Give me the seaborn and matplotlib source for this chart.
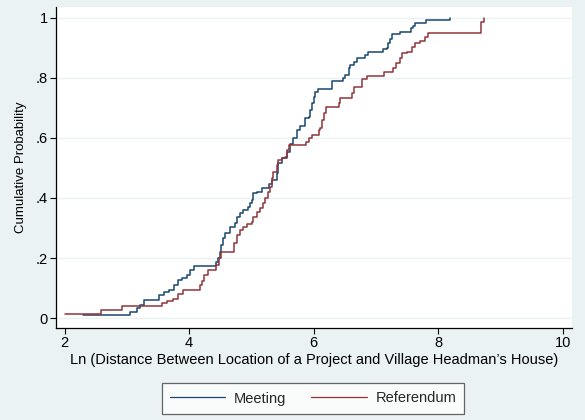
import matplotlib
matplotlib.use("Agg")
import matplotlib.pyplot as plt
import seaborn as sns
import pandas as pd

# Meeting ECDF step points (x = ln distance, y = cumulative probability)
meeting_x = [2.29, 3.05, 3.16, 3.21, 3.27, 3.51, 3.60, 3.67, 3.75, 3.83, 3.88, 3.96,
             4.02, 4.08, 4.44, 4.47, 4.50, 4.52, 4.55, 4.58, 4.66, 4.74, 4.77, 4.82,
             4.87, 4.95, 4.98, 5.01, 5.02, 5.03, 5.09, 5.17, 5.29, 5.33, 5.41, 5.43,
             5.49, 5.57, 5.62, 5.67, 5.73, 5.78, 5.86, 5.92, 5.94, 5.97, 6.00, 6.02,
             6.07, 6.29, 6.47, 6.50, 6.56, 6.58, 6.64, 6.69, 6.83, 6.88, 7.12, 7.18,
             7.20, 7.23, 7.25, 7.39, 7.56, 7.60, 7.63, 7.81, 8.19]
meeting_y = [0.011, 0.021, 0.032, 0.043, 0.060, 0.077, 0.088, 0.094, 0.110, 0.127, 0.135, 0.145,
             0.160, 0.173, 0.188, 0.199, 0.221, 0.243, 0.265, 0.282, 0.304, 0.315, 0.337, 0.349,
             0.360, 0.371, 0.382, 0.393, 0.404, 0.415, 0.420, 0.432, 0.448, 0.460, 0.482, 0.515,
             0.532, 0.554, 0.580, 0.600, 0.626, 0.640, 0.665, 0.670, 0.693, 0.715, 0.737, 0.754,
             0.762, 0.790, 0.798, 0.809, 0.832, 0.842, 0.853, 0.867, 0.876, 0.887, 0.895, 0.898,
             0.915, 0.930, 0.945, 0.953, 0.965, 0.972, 0.981, 0.992, 1.000]

# Referendum ECDF step points
referendum_x = [2.01, 2.58, 2.93, 3.56, 3.65, 3.74, 3.82, 3.91, 4.18, 4.21, 4.24, 4.31,
                4.44, 4.48, 4.52, 4.72, 4.77, 4.82, 4.87, 4.93, 5.01, 5.03, 5.09, 5.14,
                5.19, 5.22, 5.27, 5.30, 5.33, 5.35, 5.41, 5.43, 5.49, 5.54, 5.57, 5.60,
                5.88, 5.92, 5.97, 6.09, 6.10, 6.13, 6.16, 6.20, 6.40, 6.42, 6.61, 6.64,
                6.77, 6.85, 7.13, 7.27, 7.33, 7.38, 7.42, 7.50, 7.58, 7.63, 7.70, 7.79,
                7.84, 8.68, 8.74]
referendum_y = [0.013, 0.027, 0.040, 0.051, 0.058, 0.065, 0.080, 0.093, 0.110, 0.125, 0.143, 0.160,
                0.176, 0.200, 0.221, 0.249, 0.276, 0.293, 0.304, 0.313, 0.321, 0.337, 0.354, 0.365,
                0.382, 0.399, 0.420, 0.437, 0.465, 0.487, 0.510, 0.526, 0.532, 0.537, 0.560, 0.576,
                0.587, 0.598, 0.609, 0.626, 0.632, 0.660, 0.682, 0.704, 0.717, 0.731, 0.748, 0.768,
                0.795, 0.806, 0.820, 0.832, 0.848, 0.865, 0.884, 0.887, 0.903, 0.915, 0.923, 0.937,
                0.950, 0.987, 1.000]

series_names = ["Meeting", "Referendum"]
x_ticks = [2, 4, 6, 8, 10]
y_ticks = [0, 0.2, 0.4, 0.6, 0.8, 1.0]
y_tick_labels = ["0", ".2", ".4", ".6", ".8", "1"]

df = pd.concat([
    pd.DataFrame({"x": meeting_x, "y": meeting_y, "group": series_names[0]}),
    pd.DataFrame({"x": referendum_x, "y": referendum_y, "group": series_names[1]}),
], ignore_index=True)

sns.set_theme(style="white")
plt.rcParams["font.family"] = ["Liberation Sans", "DejaVu Sans"]

bg = "#EAF2F3"
colors = {"Meeting": "#1a476f", "Referendum": "#90353b"}

fig = plt.figure(figsize=(5.85, 4.2), dpi=100, facecolor=bg)
ax = fig.add_axes([0.0957, 0.220, 0.978 - 0.0957, 0.983 - 0.220])
ax.set_facecolor("white")

sns.lineplot(data=df, x="x", y="y", hue="group", hue_order=series_names,
             palette=colors, estimator=None, sort=False, drawstyle="steps-post",
             linewidth=1.1, ax=ax, legend=False)

ax.set_xlim(1.863, 10.15)
ax.set_ylim(-0.0316, 1.035)
ax.set_xticks(x_ticks)
ax.set_xticklabels([str(t) for t in x_ticks])
ax.set_yticks(y_ticks)
ax.set_yticklabels(y_tick_labels)
ax.yaxis.grid(True, color="#EAF2F3", linewidth=1.0)
ax.xaxis.grid(False)
ax.set_axisbelow(True)

for s in ["top", "right"]:
    ax.spines[s].set_visible(False)
for s in ["left", "bottom"]:
    ax.spines[s].set_color("black")
    ax.spines[s].set_linewidth(0.9)

ax.tick_params(axis="both", which="major", direction="out", length=4, width=0.8,
               color="black", labelsize=10.5, pad=2, labelcolor="black",
               left=True, bottom=True)

ax.set_xlabel("Ln (Distance Between Location of a Project and Village Headman\u2019s House)",
              fontsize=10.5, color="black", labelpad=2)
ax.set_ylabel("Cumulative Probability", fontsize=9.5, color="black", labelpad=6)

handles = [plt.Line2D([], [], color=colors[n], linewidth=0.9) for n in series_names]
leg = fig.legend(handles, series_names, loc="center", ncol=2,
                 bbox_to_anchor=(313 / 585, 1 - 398.5 / 420), frameon=True,
                 fancybox=False, fontsize=10.5, handlelength=3.8, handletextpad=0.6,
                 columnspacing=1.7, borderpad=0.55)
leg.get_frame().set_edgecolor("#404040")
leg.get_frame().set_linewidth(0.9)
leg.get_frame().set_facecolor("white")

fig.savefig("out.png", dpi=100, facecolor=bg)
